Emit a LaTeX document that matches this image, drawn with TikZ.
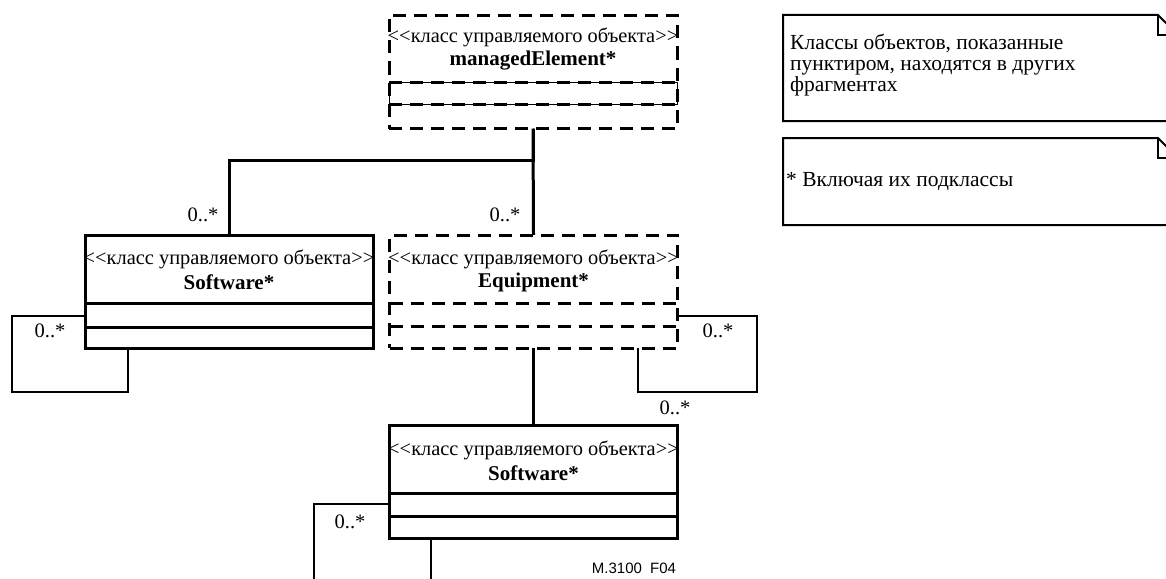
\documentclass[tikz,border=0pt]{standalone}
\usepackage{fontspec}
\setmainfont{Liberation Serif}
\newfontfamily\figlabelfont{Liberation Sans}
% stereotype brackets written as two separate characters
\newcommand\stL{<\kern0pt<}
\newcommand\stR{>\kern0pt>}
\begin{document}
\begin{tikzpicture}[x=1pt,y=-1pt,
  box/.style={draw, line width=3pt, minimum width=288pt, minimum height=113pt,
    inner sep=0pt, outer sep=0pt},
  dbox/.style={box, dash pattern=on 13pt off 8pt},
  stereo/.style={font=\fontsize{20.4}{22}\selectfont, inner sep=0pt},
  cname/.style={font=\fontsize{21}{22}\selectfont\bfseries, inner sep=0pt},
  mult/.style={font=\fontsize{20.5}{22}\selectfont, inner sep=0pt},
  conn/.style={line width=3pt},
  selfloop/.style={line width=2.5pt},
  cline/.style={line width=3pt},
  dline/.style={line width=3pt, dash pattern=on 13pt off 8pt},
  thinline/.style={line width=1pt},
  notebox/.style={line width=2pt},
  notetext/.style={font=\fontsize{21.5}{21}\selectfont, align=left, inner sep=0pt},
  figlabel/.style={font=\figlabelfont\fontsize{15}{17}\selectfont, inner sep=0pt}
]
\useasboundingbox (0,0) rectangle (1166,578);
\clip (0,0) rectangle (1166,578);

% class boxes
\node[dbox] (me)  at (533,72) {};
\node[box]  (sw1) at (229,291.5) {};
\node[dbox] (eq)  at (533.5,291.5) {};
\node[box]  (sw2) at (533.5,481.5) {};

% managedElement: compartments
\draw[thinline] ([yshift=-67pt]me.north west) rectangle ([yshift=-89pt]me.north east);
\draw[dline] ([yshift=-67pt]me.north west) -- ([yshift=-67pt]me.north east);
\draw[dline] ([yshift=-89pt]me.north west) -- ([yshift=-89pt]me.north east);
\node[stereo] (me-st) at ([yshift=-22pt]me.north) {\stL класс управляемого объекта\stR};
\node[cname]  (me-nm) at ([yshift=-45pt]me.north) {managedElement*};

% Software (left)
\draw[cline] ([yshift=-68pt]sw1.north west) -- ([yshift=-68pt]sw1.north east);
\draw[cline] ([yshift=-92pt]sw1.north west) -- ([yshift=-92pt]sw1.north east);
\node[stereo] (sw1-st) at ([yshift=-24pt]sw1.north) {\stL класс управляемого объекта\stR};
\node[cname]  (sw1-nm) at ([yshift=-47pt]sw1.north) {Software*};

% Equipment
\draw[dline] ([yshift=-68pt]eq.north west) -- ([yshift=-68pt]eq.north east);
\draw[dline] ([yshift=-91pt]eq.north west) -- ([yshift=-91pt]eq.north east);
\node[stereo] (eq-st) at ([yshift=-24pt]eq.north) {\stL класс управляемого объекта\stR};
\node[cname]  (eq-nm) at ([yshift=-47pt]eq.north) {Equipment*};

% Software (bottom)
\draw[cline] ([yshift=-68pt]sw2.north west) -- ([yshift=-68pt]sw2.north east);
\draw[cline] ([yshift=-91pt]sw2.north west) -- ([yshift=-91pt]sw2.north east);
\node[stereo] (sw2-st) at ([yshift=-25pt]sw2.north) {\stL класс управляемого объекта\stR};
\node[cname]  (sw2-nm) at ([yshift=-48pt]sw2.north) {Software*};

% associations
\draw[conn] (me.south) -- (me.south |- 0,160) -| (sw1.north);
\draw[conn] (me.south) -- (eq.north);
\draw[conn] (eq.south) -- (sw2.north);

% self associations
\draw[selfloop] (sw1.west |- 0,316) -- (12,316) -- (12,392) -- (128,392) -- (sw1.south -| 128,0);
\draw[selfloop] (eq.east |- 0,316) -- (757,316) -- (757,392) -- (638,392) -- (eq.south -| 638,0);
\draw[selfloop] (sw2.west |- 0,504) -- (314,504) -- (314,590) -- (431,590) -- (sw2.south -| 431,0);

% multiplicities
\node[mult] (m1) at (203,215) {0..*};
\node[mult] (m2) at (505,215) {0..*};
\node[mult] (m3) at (50,331) {0..*};
\node[mult] (m4) at (718,331) {0..*};
\node[mult] (m5) at (675,408) {0..*};
\node[mult] (m6) at (350,522) {0..*};

% notes
\draw[notebox] (783,15) -- (1158,15) -- (1178,35) -- (1178,121) -- (783,121) -- cycle;
\draw[notebox] (1158,15) -- (1158,35) -- (1178,35);
\node[notetext, anchor=west] (n1) at (790,65)
  {Классы объектов, показанные\\пунктиром, находятся в других\\фрагментах};
\draw[notebox] (783,138) -- (1158,138) -- (1178,158) -- (1178,225) -- (783,225) -- cycle;
\draw[notebox] (1158,138) -- (1158,158) -- (1178,158);
\node[notetext, anchor=west] (n2) at (786,182) {* Включая их подклассы};

% figure label
\node[figlabel] (fig) at (634,568) {M.3100\hspace{0.55em}F04};
\end{tikzpicture}
\end{document}
